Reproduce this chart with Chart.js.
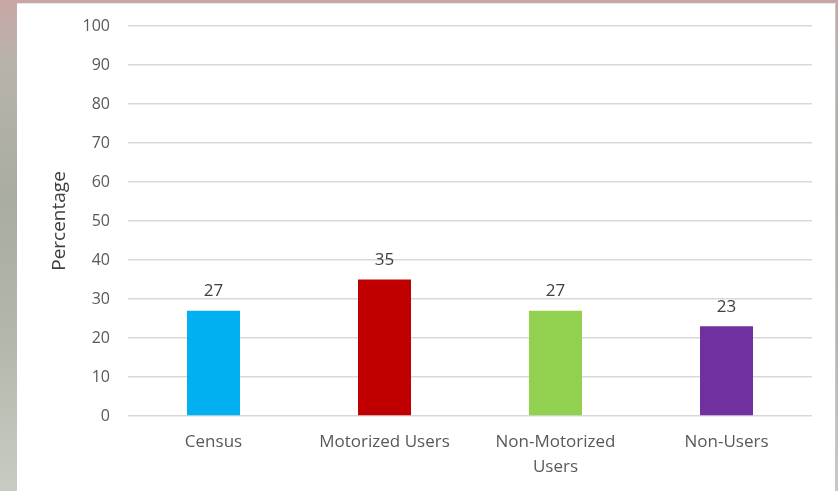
<!DOCTYPE html>
<html>
<head>
<meta charset="utf-8">
<script src="https://cdn.jsdelivr.net/npm/chart.js@4"></script>
<style>
    html, body {
        margin: 0;
        padding: 0;
        width: 838px;
        height: 491px;
        overflow: hidden;
    }
    body {
        background: linear-gradient(180deg, #c7a7a4 0%, #b9b3ab 12%, #a9ad9f 40%, #b4b8ac 70%, #c8cbc2 100%);
        position: relative;
    }
    #panel {
        position: absolute;
        left: 17px;
        top: 3px;
        width: 818px;
        height: 490px;
        background: #fff;
        border-right: 1px solid #c8c8c8;
        border-top: 1px solid #e6e6e6;
    }
</style>
</head>
<body>
<div id="panel">
    <canvas id="usage-chart" width="818" height="490"></canvas>
</div>
<script>
// Chart data
const categories = ['Census', 'Motorized Users', ['Non-Motorized', 'Users'], 'Non-Users'];
const percentages = [27, 35, 27, 23];
const barColors = ['#00b0f0', '#c00000', '#92d050', '#7030a0'];
const yTicks = [0, 10, 20, 30, 40, 50, 60, 70, 80, 90, 100];

const FONT = '"Open Sans", "DejaVu Sans", sans-serif';

// Value labels above each bar
const valueLabels = {
    id: 'valueLabels',
    afterDatasetsDraw(chart) {
        const ctx = chart.ctx;
        const meta = chart.getDatasetMeta(0);
        ctx.save();
        ctx.font = '17px ' + FONT;
        ctx.fillStyle = '#404040';
        ctx.textAlign = 'center';
        ctx.textBaseline = 'bottom';
        meta.data.forEach((bar, i) => {
            ctx.fillText(String(percentages[i]), bar.x, bar.y - 11);
        });
        ctx.restore();
    }
};

const ctx = document.getElementById('usage-chart');

new Chart(ctx, {
    type: 'bar',
    data: {
        labels: categories,
        datasets: [{
            data: percentages,
            backgroundColor: barColors,
            borderWidth: 0,
            barPercentage: 0.31,
            categoryPercentage: 1
        }]
    },
    options: {
        responsive: false,
        animation: false,
        layout: {
            padding: { top: 22, right: 23, left: 0, bottom: 0 }
        },
        scales: {
            x: {
                grid: { display: false },
                border: { display: false },
                ticks: {
                    color: '#595959',
                    font: { family: FONT, size: 17, lineHeight: 1.5 },
                    padding: 5,
                    maxRotation: 0,
                    autoSkip: false
                },
                afterFit(scale) { scale.height = 78; }
            },
            y: {
                min: 0,
                max: 100,
                afterBuildTicks(scale) {
                    scale.ticks = yTicks.map(v => ({ value: v }));
                },
                grid: {
                    color: '#d9d9d9',
                    lineWidth: 1.5,
                    drawTicks: false
                },
                border: { display: false },
                ticks: {
                    color: '#595959',
                    font: { family: FONT, size: 16 },
                    padding: 18
                },
                title: {
                    display: true,
                    text: 'Percentage',
                    color: '#404040',
                    font: { family: FONT, size: 19 },
                    padding: { top: 31, bottom: 0 }
                },
                afterFit(scale) {
                    scale.width = 111;
                    scale.paddingTop = 0;
                }
            }
        },
        plugins: {
            legend: { display: false },
            tooltip: { enabled: false }
        }
    },
    plugins: [valueLabels]
});
</script>
</body>
</html>
